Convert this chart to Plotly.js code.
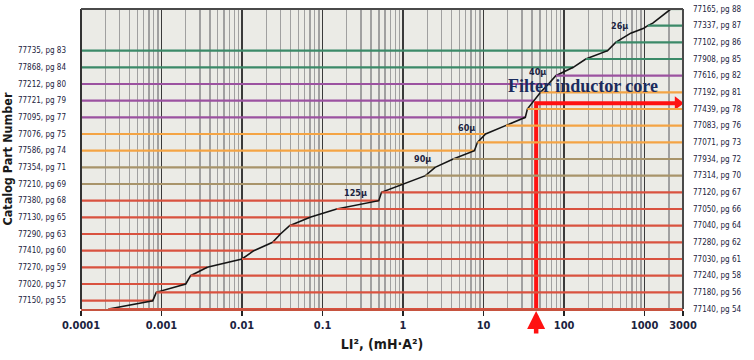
<!DOCTYPE html>
<html><head><meta charset="utf-8">
<script src="https://cdn.plot.ly/plotly-3.0.1.min.js"></script>
<style>html,body{margin:0;padding:0;background:#fff}#chart{width:754px;height:360px}</style>
</head><body><div id="chart"></div>
<script>
// ---------- DATA ----------
const xTickVals = [0.0001, 0.001, 0.01, 0.1, 1, 10, 100, 1000, 3000];
const xTickText = ['0.0001', '0.001', '0.01', '0.1', '1', '10', '100', '1000', '3000'];

// Selection curve: LI² value vs. level (part-number line index, 0 = bottom)
const curveLevel = [0, 1, 2, 3, 4, 5, 6, 7, 8, 9, 10, 11, 12, 13, 14, 15, 16, 17, 18, 19, 20, 21, 22, 23, 24, 25, 26, 27, 28, 29, 30, 31, 32, 33.1, 33.7, 34, 34.3, 36];
const curveLI    = [0.00022, 0.00078, 0.00086, 0.002, 0.0023, 0.0037, 0.01, 0.014, 0.024, 0.03, 0.039, 0.07, 0.15, 0.5, 0.54, 1.0, 1.9, 2.5, 4.2, 7.7, 8.4, 10.6, 19, 33, 35, 42, 51, 64, 79, 130, 186, 348, 438, 673, 977, 1096, 1265, 2118];

// Left-labelled lines (run from left edge to the curve)
const leftLevels = [31, 29, 27, 25, 23, 21, 19, 17, 15, 13, 11, 9, 7, 5, 3, 1];
const leftLabels = ['77735, pg 83', '77868, pg 84', '77212, pg 80', '77721, pg 79', '77095, pg 77', '77076, pg 75', '77586, pg 74', '77354, pg 71', '77210, pg 69', '77380, pg 68', '77130, pg 65', '77290, pg 63', '77410, pg 60', '77270, pg 59', '77020, pg 57', '77150, pg 55'];
const leftFamily = ['g', 'g', 'p', 'p', 'p', 'o', 'o', 't', 't', 'r', 'r', 'r', 'r', 'r', 'r', 'r'];

// Right-labelled lines (run from the curve to the right edge)
const rightLevels = [36, 34, 32, 30, 28, 26, 24, 22, 20, 18, 16, 14, 12, 10, 8, 6, 4, 2, 0];
const rightLabels = ['77165, pg 88', '77337, pg 87', '77102, pg 86', '77908, pg 85', '77616, pg 82', '77192, pg 81', '77439, pg 78', '77083, pg 76', '77071, pg 73', '77934, pg 72', '77314, pg 70', '77120, pg 67', '77050, pg 66', '77040, pg 64', '77280, pg 62', '77030, pg 61', '77240, pg 58', '77180, pg 56', '77140, pg 54'];
const rightFamily = ['g', 'g', 'g', 'g', 'p', 'o', 'o', 'o', 'o', 't', 't', 'r', 'r', 'r', 'r', 'r', 'r', 'r', 'r'];

// Permeability labels along the curve
const muLabels = ['26µ', '40µ', '60µ', '90µ', '125µ'];
const muLI     = [492, 47, 6.15, 1.74, 0.256];
const muLevel  = [34.0, 28.5, 21.7, 18.0, 13.9];

// Filter inductor selection
const filterLI = 45;
const filterLevel = 24.7;
const filterText = 'Filter inductor core';

// ---------- STYLE ----------
const familyColor = {g: '#3b8a68', p: '#9b52a0', o: '#f4a444', t: '#a8946a', r: '#d9523f'};
const NARROW = '"Liberation Sans Narrow", "DejaVu Sans Condensed", "Roboto Condensed", sans-serif';
const NAVY = '#1c2340';
const RED = '#ff1111';
const X_MIN = xTickVals[0], X_MAX = xTickVals[xTickVals.length - 1];

function curveAt(level) {
  const i = curveLevel.indexOf(level);
  return curveLI[i];
}

const traces = [];
leftLevels.forEach((lv, i) => {
  traces.push({x: [X_MIN, curveAt(lv)], y: [lv, lv], mode: 'lines', type: 'scatter',
    line: {color: familyColor[leftFamily[i]], width: 2.2}, hoverinfo: 'skip', showlegend: false});
});
rightLevels.forEach((lv, i) => {
  traces.push({x: [curveAt(lv), X_MAX], y: [lv, lv], mode: 'lines', type: 'scatter', yaxis: 'y2',
    line: {color: familyColor[rightFamily[i]], width: 2.2}, hoverinfo: 'skip', showlegend: false});
});
traces.push({x: curveLI, y: curveLevel, mode: 'lines', type: 'scatter',
  line: {color: '#151515', width: 1.6}, hoverinfo: 'skip', showlegend: false});

// red selection arrows
traces.push({x: [filterLI, filterLI, 2500], y: [0, filterLevel, filterLevel], mode: 'lines', type: 'scatter',
  line: {color: RED, width: 4}, hoverinfo: 'skip', showlegend: false});
traces.push({x: [2588], y: [filterLevel], mode: 'markers', type: 'scatter', cliponaxis: false,
  marker: {symbol: 'triangle-right', size: 12, color: RED}, hoverinfo: 'skip', showlegend: false});

const annotations = muLabels.map((t, i) => ({
  x: Math.log10(muLI[i]), y: muLevel[i], xref: 'x', yref: 'y', text: t, showarrow: false,
  font: {family: NARROW, size: 9, color: NAVY, weight: 'bold'}
}));
annotations.push({x: Math.log10(18.8), y: 26.75, xref: 'x', yref: 'y', xanchor: 'left', yanchor: 'middle',
  text: '<b>' + filterText + '</b>', showarrow: false,
  font: {family: '"Liberation Serif", "Times New Roman", serif', size: 18, color: '#1b2c5e'}});
// upward arrow below the axis pointing at the selected LI²
annotations.push({x: Math.log10(filterLI), y: 0, xref: 'x', yref: 'paper', yshift: -2,
  text: '', showarrow: true, ax: 0, ay: 24, arrowhead: 2, arrowsize: 0.8, arrowwidth: 4.5, arrowcolor: RED});

const borderColor = '#4a4a4a';
const layout = {
  width: 754, height: 360,
  margin: {l: 81, r: 71, t: 9, b: 51},
  paper_bgcolor: '#ffffff', plot_bgcolor: '#ebebe6',
  showlegend: false,
  xaxis: {
    type: 'log', range: [Math.log10(X_MIN), Math.log10(X_MAX)],
    tickmode: 'array', tickvals: xTickVals, ticktext: xTickText,
    showgrid: true, gridcolor: '#3a3a3a', gridwidth: 1.3,
    minor: {dtick: 'D1', showgrid: true, gridcolor: '#a0a0a0', gridwidth: 1.4, ticks: ''},
    ticks: 'outside', ticklen: 5, tickwidth: 1.5, tickcolor: '#222',
    showline: true, linecolor: '#c6533f', linewidth: 2, zeroline: false,
    tickfont: {family: NARROW, size: 11, color: NAVY, weight: 'bold'},
    title: {text: 'LI², (mH·A²)', font: {family: NARROW, size: 14, color: '#1a1a1a', weight: 'bold'}, standoff: 8},
    fixedrange: true
  },
  yaxis: {
    range: [0, 36], tickmode: 'array', tickvals: leftLevels, ticktext: leftLabels,
    showgrid: false, zeroline: false, ticks: '', ticklabelstandoff: 14,
    tickfont: {family: NARROW, size: 8, color: NAVY},
    title: {text: 'Catalog Part Number', font: {family: NARROW, size: 12.5, color: '#1a1a1a', weight: 'bold'}, standoff: 5},
    fixedrange: true
  },
  yaxis2: {
    overlaying: 'y', side: 'right', range: [0, 36], tickmode: 'array', tickvals: rightLevels, ticktext: rightLabels,
    showgrid: false, zeroline: false, ticks: '', ticklabelstandoff: 9,
    tickfont: {family: NARROW, size: 8, color: NAVY}, fixedrange: true
  },
  shapes: [
    {type: 'line', xref: 'paper', yref: 'paper', x0: 0, x1: 0, y0: 0, y1: 1, line: {color: '#333', width: 2}, layer: 'above'},
    {type: 'line', xref: 'paper', yref: 'paper', x0: 0, x1: 1, y0: 1, y1: 1, line: {color: borderColor, width: 2}, layer: 'above'},
    {type: 'line', xref: 'paper', yref: 'paper', x0: 1, x1: 1, y0: 0, y1: 1, line: {color: borderColor, width: 2}, layer: 'above'}
  ],
  annotations: annotations
};

Plotly.newPlot('chart', traces, layout, {staticPlot: true, displayModeBar: false});
</script></body></html>
